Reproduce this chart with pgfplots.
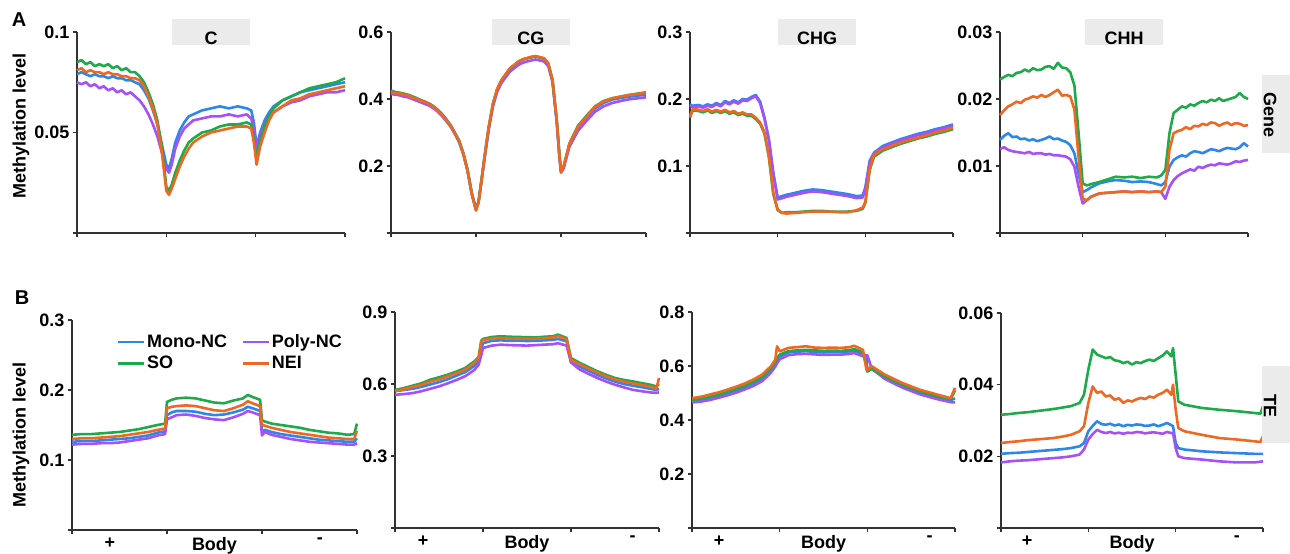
\documentclass[border=0pt]{standalone}
\usepackage{fontspec}
\setmainfont{Liberation Sans}
\usepackage{pgfplots}
\pgfplotsset{compat=1.18}
\usepackage{pgfplotstable}

\definecolor{cMono}{RGB}{45,135,232}
\definecolor{cPoly}{RGB}{166,80,250}
\definecolor{cSO}{RGB}{30,170,75}
\definecolor{cNEI}{RGB}{238,104,34}
\definecolor{stripgray}{RGB}{235,235,235}
\definecolor{axisgray}{RGB}{50,50,50}

\newcommand{\bigfont}{\fontsize{18bp}{20bp}\selectfont\bfseries}

% Gene, C
\pgfplotstableread{
x     mono   poly   so     nei
0.00  0.079  0.075  0.085  0.081
0.05  0.080  0.074  0.086  0.082
0.10  0.079  0.075  0.084  0.080
0.15  0.078  0.073  0.085  0.081
0.20  0.079  0.074  0.083  0.080
0.25  0.078  0.072  0.084  0.080
0.30  0.078  0.073  0.083  0.079
0.35  0.077  0.071  0.084  0.080
0.40  0.078  0.072  0.082  0.079
0.45  0.077  0.070  0.083  0.079
0.50  0.077  0.071  0.081  0.078
0.55  0.076  0.069  0.082  0.078
0.60  0.076  0.070  0.080  0.077
0.65  0.075  0.068  0.080  0.077
0.70  0.074  0.066  0.078  0.076
0.75  0.071  0.063  0.075  0.073
0.80  0.067  0.059  0.070  0.068
0.85  0.061  0.054  0.064  0.062
0.90  0.054  0.048  0.056  0.054
0.95  0.044  0.040  0.043  0.040
1.00  0.034  0.032  0.023  0.021
1.03  0.032  0.030  0.021  0.019
1.06  0.037  0.034  0.024  0.022
1.10  0.045  0.042  0.030  0.027
1.15  0.051  0.048  0.036  0.033
1.20  0.055  0.052  0.041  0.038
1.25  0.058  0.054  0.045  0.042
1.30  0.059  0.056  0.047  0.045
1.40  0.061  0.057  0.050  0.048
1.50  0.062  0.058  0.051  0.050
1.60  0.063  0.058  0.053  0.051
1.70  0.062  0.059  0.054  0.052
1.80  0.063  0.058  0.054  0.053
1.90  0.062  0.059  0.055  0.053
1.95  0.061  0.057  0.054  0.052
1.98  0.055  0.052  0.047  0.045
2.01  0.043  0.042  0.037  0.034
2.05  0.050  0.049  0.046  0.043
2.10  0.056  0.054  0.053  0.050
2.15  0.060  0.058  0.058  0.056
2.20  0.063  0.060  0.062  0.060
2.30  0.066  0.063  0.066  0.063
2.40  0.068  0.065  0.068  0.066
2.50  0.070  0.066  0.070  0.067
2.60  0.071  0.068  0.072  0.069
2.70  0.072  0.069  0.073  0.070
2.80  0.073  0.070  0.074  0.071
2.90  0.074  0.070  0.075  0.072
3.00  0.075  0.071  0.077  0.073
}\geneC

% Gene, CG
\pgfplotstableread{
x     mono   poly   so     nei
0.00  0.420  0.415  0.425  0.422
0.05  0.418  0.413  0.421  0.417
0.10  0.416  0.411  0.419  0.417
0.15  0.413  0.407  0.416  0.412
0.20  0.410  0.405  0.413  0.412
0.25  0.405  0.400  0.408  0.404
0.30  0.400  0.395  0.403  0.402
0.35  0.396  0.390  0.397  0.394
0.40  0.391  0.385  0.392  0.392
0.45  0.386  0.380  0.386  0.384
0.50  0.378  0.372  0.378  0.377
0.55  0.368  0.362  0.366  0.364
0.60  0.355  0.349  0.354  0.352
0.65  0.340  0.334  0.338  0.337
0.70  0.323  0.318  0.320  0.322
0.75  0.300  0.296  0.298  0.298
0.80  0.276  0.272  0.274  0.277
0.85  0.240  0.236  0.236  0.237
0.90  0.190  0.187  0.186  0.187
0.95  0.120  0.118  0.116  0.117
1.00  0.072  0.070  0.068  0.067
1.03  0.095  0.092  0.092  0.092
1.06  0.150  0.145  0.148  0.148
1.10  0.225  0.220  0.226  0.227
1.15  0.315  0.308  0.316  0.317
1.20  0.385  0.378  0.386  0.387
1.25  0.430  0.422  0.430  0.430
1.30  0.455  0.448  0.456  0.457
1.40  0.490  0.482  0.491  0.492
1.50  0.510  0.502  0.512  0.512
1.55  0.518  0.508  0.518  0.518
1.60  0.521  0.512  0.522  0.522
1.65  0.525  0.515  0.524  0.526
1.70  0.527  0.518  0.528  0.528
1.75  0.524  0.515  0.524  0.525
1.80  0.520  0.512  0.521  0.522
1.85  0.505  0.498  0.506  0.507
1.90  0.455  0.450  0.456  0.457
1.95  0.335  0.330  0.336  0.337
1.98  0.235  0.232  0.236  0.237
2.00  0.183  0.180  0.184  0.182
2.03  0.195  0.192  0.198  0.197
2.10  0.265  0.258  0.268  0.267
2.20  0.315  0.305  0.320  0.317
2.30  0.345  0.335  0.350  0.347
2.40  0.372  0.362  0.378  0.377
2.50  0.388  0.378  0.394  0.392
2.60  0.398  0.388  0.402  0.402
2.70  0.403  0.394  0.407  0.407
2.80  0.407  0.399  0.412  0.412
2.90  0.410  0.402  0.416  0.415
3.00  0.413  0.405  0.420  0.419
}\geneCG

% Gene, CHG
\pgfplotstableread{
x     mono   poly   so     nei
0.00  0.192  0.190  0.172  0.174
0.03  0.190  0.188  0.183  0.185
0.10  0.191  0.189  0.182  0.184
0.15  0.189  0.187  0.180  0.182
0.20  0.192  0.190  0.183  0.185
0.25  0.190  0.188  0.179  0.181
0.30  0.194  0.192  0.182  0.184
0.35  0.191  0.189  0.179  0.181
0.40  0.197  0.195  0.182  0.184
0.45  0.194  0.192  0.178  0.180
0.50  0.198  0.196  0.180  0.182
0.55  0.195  0.193  0.176  0.178
0.60  0.200  0.198  0.178  0.180
0.65  0.199  0.197  0.175  0.177
0.70  0.203  0.201  0.175  0.177
0.75  0.206  0.204  0.170  0.172
0.80  0.196  0.194  0.163  0.165
0.85  0.172  0.170  0.148  0.150
0.90  0.140  0.138  0.113  0.115
0.95  0.090  0.088  0.058  0.060
1.00  0.053  0.050  0.034  0.035
1.05  0.055  0.052  0.030  0.030
1.10  0.057  0.054  0.031  0.029
1.20  0.060  0.057  0.031  0.030
1.30  0.063  0.060  0.032  0.031
1.40  0.065  0.062  0.033  0.032
1.50  0.064  0.061  0.033  0.032
1.60  0.062  0.059  0.032  0.032
1.70  0.060  0.057  0.032  0.031
1.80  0.058  0.055  0.032  0.031
1.90  0.055  0.052  0.033  0.034
1.97  0.056  0.053  0.036  0.038
2.00  0.068  0.065  0.045  0.046
2.05  0.108  0.106  0.094  0.096
2.10  0.120  0.118  0.114  0.117
2.20  0.130  0.128  0.123  0.125
2.30  0.135  0.133  0.128  0.130
2.40  0.140  0.138  0.133  0.135
2.50  0.144  0.142  0.137  0.139
2.60  0.148  0.146  0.141  0.142
2.70  0.151  0.149  0.144  0.146
2.80  0.155  0.153  0.148  0.150
2.90  0.158  0.156  0.151  0.153
3.00  0.162  0.160  0.155  0.157
}\geneCHG

% Gene, CHH
\pgfplotstableread{
x     mono    poly    so      nei
0.00  0.0139  0.0125  0.0229  0.0176
0.05  0.0145  0.0128  0.0233  0.0183
0.10  0.0149  0.0124  0.0236  0.0189
0.15  0.0143  0.0122  0.0234  0.0192
0.20  0.0144  0.0121  0.0239  0.0196
0.25  0.0140  0.0120  0.0240  0.0194
0.30  0.0141  0.0119  0.0244  0.0199
0.35  0.0138  0.0121  0.0241  0.0201
0.40  0.0140  0.0118  0.0246  0.0204
0.45  0.0137  0.0119  0.0243  0.0202
0.50  0.0139  0.0119  0.0244  0.0206
0.55  0.0141  0.0117  0.0248  0.0203
0.60  0.0144  0.0118  0.0249  0.0206
0.65  0.0140  0.0116  0.0245  0.0210
0.70  0.0141  0.0116  0.0254  0.0214
0.75  0.0138  0.0115  0.0247  0.0205
0.80  0.0136  0.0114  0.0246  0.0206
0.85  0.0131  0.0110  0.0240  0.0204
0.90  0.0119  0.0099  0.0220  0.0184
0.95  0.0089  0.0069  0.0150  0.0114
1.00  0.0061  0.0044  0.0074  0.0051
1.05  0.0064  0.0049  0.0071  0.0049
1.10  0.0068  0.0054  0.0073  0.0054
1.20  0.0074  0.0059  0.0076  0.0059
1.30  0.0077  0.0060  0.0080  0.0060
1.40  0.0079  0.0061  0.0084  0.0061
1.50  0.0078  0.0062  0.0083  0.0062
1.60  0.0076  0.0061  0.0084  0.0061
1.70  0.0077  0.0062  0.0082  0.0062
1.80  0.0076  0.0061  0.0084  0.0061
1.90  0.0073  0.0062  0.0083  0.0062
1.95  0.0071  0.0061  0.0086  0.0061
2.00  0.0076  0.0051  0.0094  0.0069
2.05  0.0099  0.0069  0.0149  0.0124
2.10  0.0109  0.0079  0.0179  0.0149
2.15  0.0113  0.0085  0.0184  0.0152
2.20  0.0116  0.0089  0.0189  0.0154
2.25  0.0114  0.0092  0.0187  0.0158
2.30  0.0119  0.0095  0.0192  0.0155
2.35  0.0122  0.0093  0.0190  0.0160
2.40  0.0121  0.0099  0.0194  0.0159
2.45  0.0119  0.0097  0.0197  0.0163
2.50  0.0122  0.0100  0.0195  0.0161
2.55  0.0125  0.0102  0.0199  0.0165
2.60  0.0124  0.0101  0.0197  0.0164
2.65  0.0122  0.0104  0.0201  0.0160
2.70  0.0125  0.0103  0.0197  0.0163
2.75  0.0127  0.0102  0.0199  0.0165
2.80  0.0126  0.0104  0.0201  0.0161
2.85  0.0125  0.0107  0.0203  0.0164
2.90  0.0128  0.0106  0.0209  0.0163
2.95  0.0134  0.0108  0.0203  0.0160
3.00  0.0129  0.0109  0.0200  0.0161
}\geneCHH

% TE, C
\pgfplotstableread{
x     mono   poly   so     nei
0.00  0.126  0.122  0.136  0.130
0.10  0.127  0.123  0.137  0.131
0.20  0.127  0.123  0.137  0.131
0.30  0.128  0.124  0.138  0.132
0.40  0.129  0.124  0.139  0.133
0.50  0.130  0.125  0.140  0.134
0.60  0.131  0.127  0.142  0.136
0.70  0.133  0.129  0.144  0.138
0.80  0.135  0.131  0.147  0.140
0.90  0.139  0.135  0.150  0.143
0.98  0.141  0.137  0.152  0.145
1.00  0.164  0.158  0.183  0.174
1.05  0.168  0.161  0.186  0.176
1.10  0.170  0.164  0.188  0.177
1.20  0.170  0.165  0.189  0.178
1.30  0.169  0.163  0.188  0.177
1.40  0.166  0.160  0.185  0.174
1.50  0.164  0.158  0.182  0.171
1.60  0.165  0.157  0.181  0.170
1.70  0.168  0.161  0.185  0.174
1.80  0.172  0.166  0.188  0.179
1.85  0.176  0.170  0.193  0.184
1.90  0.174  0.168  0.190  0.181
1.98  0.170  0.164  0.186  0.177
2.00  0.140  0.135  0.157  0.150
2.03  0.143  0.140  0.155  0.149
2.10  0.140  0.136  0.152  0.146
2.20  0.137  0.133  0.150  0.143
2.30  0.135  0.130  0.148  0.140
2.40  0.133  0.128  0.146  0.138
2.50  0.131  0.126  0.143  0.136
2.60  0.129  0.125  0.141  0.134
2.70  0.128  0.124  0.139  0.132
2.80  0.127  0.123  0.138  0.131
2.90  0.126  0.122  0.136  0.130
2.97  0.126  0.122  0.137  0.130
3.00  0.131  0.124  0.152  0.142
}\teC

% TE, CG
\pgfplotstableread{
x     mono   poly   so     nei
0.00  0.570  0.555  0.575  0.570
0.10  0.575  0.558  0.583  0.578
0.20  0.580  0.562  0.593  0.588
0.30  0.588  0.570  0.603  0.596
0.40  0.598  0.580  0.618  0.610
0.50  0.608  0.590  0.628  0.620
0.60  0.620  0.603  0.639  0.632
0.70  0.635  0.617  0.652  0.645
0.80  0.650  0.633  0.667  0.660
0.90  0.675  0.658  0.694  0.687
0.95  0.695  0.680  0.712  0.708
0.98  0.745  0.720  0.780  0.775
1.00  0.770  0.750  0.788  0.783
1.10  0.780  0.760  0.796  0.790
1.20  0.782  0.764  0.799  0.792
1.30  0.780  0.762  0.797  0.789
1.40  0.781  0.761  0.796  0.790
1.50  0.779  0.760  0.795  0.788
1.60  0.780  0.762  0.794  0.789
1.70  0.782  0.764  0.797  0.791
1.80  0.784  0.766  0.799  0.794
1.85  0.788  0.770  0.806  0.800
1.95  0.778  0.760  0.792  0.787
2.00  0.690  0.690  0.708  0.700
2.10  0.672  0.660  0.688  0.682
2.20  0.655  0.642  0.670  0.664
2.30  0.638  0.625  0.653  0.647
2.40  0.623  0.610  0.638  0.632
2.50  0.610  0.597  0.625  0.619
2.60  0.600  0.586  0.617  0.610
2.70  0.593  0.576  0.611  0.603
2.80  0.587  0.570  0.604  0.596
2.90  0.580  0.565  0.597  0.589
2.97  0.575  0.563  0.590  0.580
3.00  0.580  0.565  0.600  0.625
}\teCG

% TE, CHG
\pgfplotstableread{
x     mono   poly   so     nei
0.00  0.470  0.465  0.475  0.481
0.10  0.474  0.468  0.478  0.486
0.20  0.480  0.474  0.485  0.494
0.30  0.488  0.482  0.493  0.502
0.40  0.497  0.491  0.503  0.512
0.50  0.508  0.501  0.514  0.523
0.60  0.520  0.513  0.526  0.535
0.70  0.533  0.526  0.540  0.550
0.80  0.551  0.544  0.558  0.568
0.90  0.582  0.575  0.590  0.599
0.95  0.605  0.598  0.613  0.623
0.97  0.620  0.610  0.630  0.673
1.00  0.635  0.625  0.642  0.654
1.10  0.650  0.640  0.655  0.667
1.20  0.653  0.644  0.658  0.670
1.30  0.655  0.645  0.660  0.673
1.40  0.652  0.643  0.658  0.668
1.50  0.650  0.641  0.656  0.667
1.60  0.652  0.642  0.657  0.668
1.70  0.651  0.642  0.656  0.667
1.80  0.654  0.645  0.659  0.670
1.85  0.658  0.648  0.663  0.675
1.95  0.645  0.636  0.650  0.660
1.99  0.630  0.640  0.600  0.586
2.00  0.580  0.640  0.580  0.586
2.05  0.590  0.590  0.590  0.599
2.20  0.558  0.552  0.560  0.568
2.40  0.528  0.520  0.530  0.537
2.60  0.502  0.495  0.505  0.512
2.80  0.485  0.477  0.487  0.494
2.95  0.473  0.466  0.476  0.481
3.00  0.480  0.465  0.510  0.519
}\teCHG

% TE, CHH
\pgfplotstableread{
x     mono    poly    so      nei
0.00  0.0207  0.0183  0.0316  0.0237
0.10  0.0209  0.0186  0.0318  0.0240
0.20  0.0210  0.0188  0.0321  0.0242
0.30  0.0212  0.0189  0.0323  0.0245
0.40  0.0214  0.0191  0.0326  0.0247
0.50  0.0216  0.0193  0.0329  0.0249
0.60  0.0218  0.0195  0.0332  0.0251
0.70  0.0220  0.0197  0.0336  0.0255
0.80  0.0223  0.0200  0.0340  0.0260
0.90  0.0228  0.0205  0.0349  0.0270
0.95  0.0237  0.0219  0.0372  0.0284
1.00  0.0270  0.0247  0.0442  0.0349
1.05  0.0285  0.0262  0.0498  0.0395
1.10  0.0298  0.0274  0.0484  0.0377
1.15  0.0290  0.0268  0.0479  0.0381
1.20  0.0288  0.0265  0.0474  0.0367
1.25  0.0291  0.0268  0.0477  0.0370
1.30  0.0286  0.0264  0.0468  0.0358
1.35  0.0289  0.0266  0.0466  0.0362
1.40  0.0284  0.0263  0.0460  0.0349
1.45  0.0288  0.0266  0.0464  0.0356
1.50  0.0286  0.0265  0.0456  0.0353
1.55  0.0289  0.0268  0.0463  0.0359
1.60  0.0288  0.0267  0.0460  0.0363
1.65  0.0285  0.0264  0.0466  0.0360
1.70  0.0286  0.0266  0.0470  0.0367
1.75  0.0289  0.0267  0.0466  0.0364
1.80  0.0284  0.0265  0.0474  0.0372
1.85  0.0288  0.0263  0.0481  0.0377
1.90  0.0293  0.0268  0.0493  0.0386
1.95  0.0287  0.0265  0.0479  0.0372
1.97  0.0284  0.0265  0.0502  0.0400
2.00  0.0237  0.0223  0.0428  0.0330
2.03  0.0223  0.0200  0.0353  0.0279
2.10  0.0219  0.0195  0.0344  0.0270
2.30  0.0214  0.0191  0.0335  0.0260
2.50  0.0211  0.0186  0.0330  0.0251
2.70  0.0209  0.0183  0.0326  0.0247
2.90  0.0207  0.0183  0.0321  0.0242
2.97  0.0207  0.0185  0.0319  0.0240
3.00  0.0207  0.0186  0.0340  0.0256
}\teCHH

\pgfplotsset{
  panel/.style={
    scale only axis, anchor=south west,
    axis lines=left, axis line style={-, line width=1.3bp, axisgray},
    xmin=0, xmax=3, ymin=0, xtick={0,1,2,3}, xticklabels={},
    scaled y ticks=false,
    tick align=outside, major tick length=4bp,
    tick style={line width=1.1bp, axisgray},
    tick label style={font=\bigfont},
    /pgf/number format/assume math mode=true,
    clip=false, no markers,
    every axis plot/.append style={line width=2.6bp, line join=round},
  },
  % region names under the x axis: + (upstream), Body, - (downstream)
  teRow/.style 2 args={
    extra x ticks={#1,1.5,#2}, extra x tick labels={+,Body,-},
    extra x tick style={major tick length=0bp,
      xticklabel style={yshift=-4bp}},
  },
  ylab/.style={
    ylabel={Methylation level},
    ylabel style={at={(axis description cs:#1)}, anchor=center, font=\bigfont},
  },
}

% grey strip with the context name on top of an axis
\newcommand{\strip}[2]{%
  \node[fill=stripgray, minimum width=78bp, minimum height=26bp, inner sep=0pt]
    at (rel axis cs:#1,1) {};
  \node[font=\bigfont, yshift=-6bp] at (rel axis cs:#1,1) {#2};
}
\newcommand{\fourlines}[1]{%
  \addplot[cMono] table[x=x, y=mono] {#1};
  \addplot[cPoly] table[x=x, y=poly] {#1};
  \addplot[cSO]   table[x=x, y=so]   {#1};
  \addplot[cNEI]  table[x=x, y=nei]  {#1};
}

\begin{document}
\begin{tikzpicture}
\useasboundingbox (0,0) rectangle (1290bp,554bp);

% ---- row A: genes ----
\begin{axis}[panel, at={(77bp,321bp)}, width=268bp, height=201bp,
  ymax=0.1, ytick={0,0.05,0.1}, yticklabels={,0.05,0.1},
  ylab={-0.209,0.532}]
  \fourlines{\geneC}
  \strip{0.5}{C}
\end{axis}

\begin{axis}[panel, at={(391bp,321bp)}, width=255bp, height=201bp,
  ymax=0.6, ytick={0,0.2,0.4,0.6}, yticklabels={,0.2,0.4,0.6}]
  \fourlines{\geneCG}
  \strip{0.549}{CG}
\end{axis}

\begin{axis}[panel, at={(690bp,321bp)}, width=263bp, height=201bp,
  ymax=0.3, ytick={0,0.1,0.2,0.3}, yticklabels={,0.1,0.2,0.3}]
  \fourlines{\geneCHG}
  \strip{0.483}{CHG}
\end{axis}

\begin{axis}[panel, at={(1000bp,321bp)}, width=248bp, height=201bp,
  ymax=0.03, ytick={0,0.01,0.02,0.03}, yticklabels={,0.01,0.02,0.03}]
  \fourlines{\geneCHH}
  \strip{0.5}{CHH}
\end{axis}

% ---- row B: transposable elements ----
\begin{axis}[panel, teRow={0.4}{2.61}, at={(72bp,24bp)}, width=285bp, height=210bp,
  ymax=0.3, ytick={0,0.1,0.2,0.3}, yticklabels={,0.1,0.2,0.3},
  ylab={-0.179,0.452},
  legend columns=2, legend cell align=left,
  legend image code/.code={\draw[#1, line width=2.8bp] (0bp,0bp) -- (26bp,0bp);},
  legend style={at={(axis description cs:0.155,0.94)}, anchor=north west,
    draw=none, fill=none, font=\bigfont, inner sep=0pt, row sep=3bp,
    /tikz/every even column/.append style={column sep=12bp}}]
  \fourlines{\teC}
  \legend{Mono-NC,Poly-NC,SO,NEI}
\end{axis}

\begin{axis}[panel, teRow={0.32}{2.7}, at={(395bp,26bp)}, width=264bp, height=216bp,
  ymax=0.9, ytick={0,0.3,0.6,0.9}, yticklabels={,0.3,0.6,0.9}]
  \fourlines{\teCG}
\end{axis}

\begin{axis}[panel, teRow={0.31}{2.71}, at={(692bp,26bp)}, width=263bp, height=216bp,
  ymax=0.8, ytick={0,0.2,0.4,0.6,0.8}, yticklabels={,0.2,0.4,0.6,0.8}]
  \fourlines{\teCHG}
\end{axis}

\begin{axis}[panel, teRow={0.3}{2.7}, at={(1001bp,26bp)}, width=262bp, height=215bp,
  ymax=0.06, ytick={0,0.02,0.04,0.06}, yticklabels={,0.02,0.04,0.06}]
  \fourlines{\teCHH}
\end{axis}

% panel letters and row strips
\node[font=\fontsize{20bp}{22bp}\selectfont\bfseries] at (19bp,534bp) {A};
\node[font=\fontsize{20bp}{22bp}\selectfont\bfseries] at (22bp,256bp) {B};
\fill[stripgray] (1262bp,401bp) rectangle (1292bp,479bp);
\node[font=\bigfont, rotate=-90] at (1270bp,439bp) {Gene};
\fill[stripgray] (1262bp,111bp) rectangle (1292bp,188bp);
\node[font=\bigfont, rotate=-90] at (1270bp,148bp) {TE};
\end{tikzpicture}
\end{document}
